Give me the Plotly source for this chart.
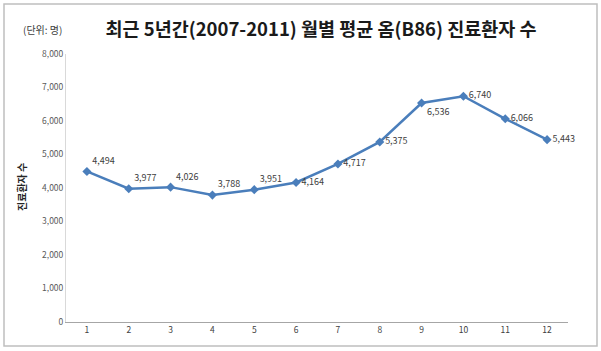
import plotly.graph_objects as go

months = [1, 2, 3, 4, 5, 6, 7, 8, 9, 10, 11, 12]
patients = [4494, 3977, 4026, 3788, 3951, 4164, 4717, 5375, 6536, 6740, 6066, 5443]
label_pos = ["top right"] * 5 + ["middle right"] * 3 + ["bottom right"] + ["middle right"] * 3
y_ticks = [0, 1000, 2000, 3000, 4000, 5000, 6000, 7000, 8000]

W, H = 601, 351
L, R, T, B = 66, 33, 54, 29
pw, ph = W - L - R, H - T - B

def px(x):
    return (x - L) / pw

def py(y):
    return (H - B - y) / ph

font = "Noto Sans CJK KR, Noto Sans, sans-serif"
blue = "#4a7ebb"

fig = go.Figure()
fig.add_trace(go.Scatter(
    x=months, y=patients,
    mode="lines+markers+text",
    line=dict(color=blue, width=2.5),
    marker=dict(symbol="diamond", size=7, color=blue),
    text=[f"{v:,}" for v in patients],
    textposition=label_pos,
    textfont=dict(size=9, color="#404040", family=font),
    cliponaxis=False,
    showlegend=False,
))

fig.update_layout(
    width=W, height=H,
    margin=dict(l=L, r=R, t=T, b=B),
    paper_bgcolor="white", plot_bgcolor="white",
    font=dict(family=font),
    title=dict(text="<b>최근 5년간(2007-2011) 월별 평균 옴(B86) 진료환자 수</b>",
               x=px(321), xanchor="center", xref="paper", y=1 - 30 / H, yanchor="middle",
               font=dict(size=18.5, color="#1a1a1a", family=font)),
    xaxis=dict(range=[0.5, 12.5], tickvals=months, ticktext=[str(m) for m in months],
               showgrid=False, zeroline=False, showline=True, linecolor="#a6a6a6",
               linewidth=1, ticks="", tickfont=dict(size=8.5, color="#404040", family=font),
               fixedrange=True),
    yaxis=dict(range=[0, 8000], tickvals=y_ticks, ticktext=[f"{v:,}" for v in y_ticks],
               showgrid=False, zeroline=False, showline=True, linecolor="#d9d9d9",
               linewidth=1, ticks="", ticklen=0, tickfont=dict(size=8.5, color="#595959", family=font),
               fixedrange=True),
    shapes=[dict(type="rect", xref="paper", yref="paper",
                 x0=px(4), x1=px(597), y0=py(346), y1=py(4),
                 line=dict(color="#bfbfbf", width=1.5), fillcolor="rgba(0,0,0,0)", layer="below")],
    annotations=[
        dict(text="(단위: 명)", xref="paper", yref="paper", x=px(42), y=py(30),
             xanchor="center", yanchor="middle", showarrow=False,
             font=dict(size=10, color="#404040", family=font)),
        dict(text="<b>진료환자 수</b>", xref="paper", yref="paper", x=px(21), y=py(187),
             xanchor="center", yanchor="middle", showarrow=False, textangle=-90,
             font=dict(size=10, color="#262626", family=font)),
    ],
)

fig.write_html("out.html")
